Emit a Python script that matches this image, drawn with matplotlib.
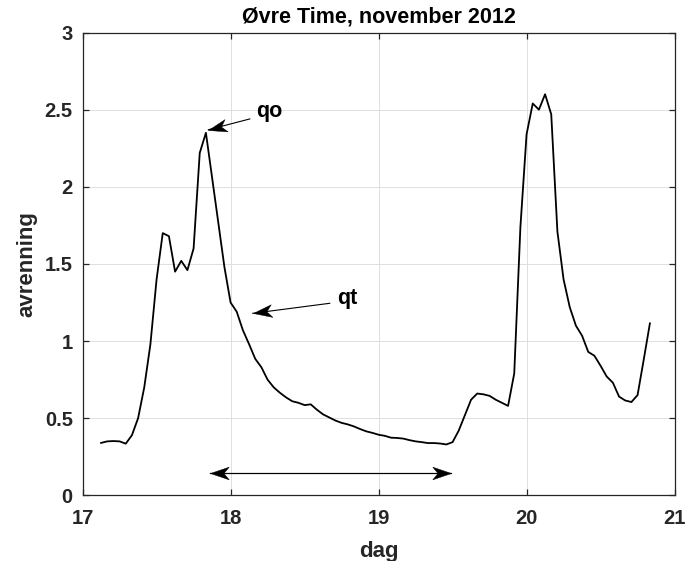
import numpy as np
import matplotlib
matplotlib.use('Agg')
import matplotlib.pyplot as plt
from matplotlib.path import Path
from matplotlib.markers import MarkerStyle

plt.rcParams['font.family'] = ['Liberation Sans', 'DejaVu Sans']
plt.rcParams['font.weight'] = 'bold'

# hourly runoff, Øvre Time, 17. kl 03 -> 20. kl 20
start_day, start_hour = 17, 3
q_17 = [0.34, 0.35, 0.352, 0.35, 0.335, 0.39, 0.50, 0.70, 0.98, 1.40, 1.70,
        1.68, 1.45, 1.52, 1.46, 1.60, 2.22, 2.35, 2.06, 1.77, 1.48]
q_18 = [1.25, 1.19, 1.07, 0.98, 0.885, 0.83, 0.75, 0.70, 0.665, 0.635, 0.61,
        0.60, 0.585, 0.59, 0.555, 0.525, 0.505, 0.485, 0.47, 0.46, 0.447,
        0.43, 0.415, 0.405]
q_19 = [0.393, 0.386, 0.374, 0.372, 0.368, 0.358, 0.35, 0.345, 0.339, 0.339,
        0.336, 0.33, 0.345, 0.42, 0.52, 0.62, 0.66, 0.655, 0.645, 0.62, 0.60,
        0.58, 0.79, 1.74]
q_20 = [2.34, 2.54, 2.50, 2.60, 2.47, 1.71, 1.40, 1.22, 1.10, 1.035, 0.93,
        0.905, 0.84, 0.77, 0.73, 0.64, 0.615, 0.605, 0.65, 0.88, 1.115]

q = np.array(q_17 + q_18 + q_19 + q_20)
dag = start_day + (start_hour + np.arange(len(q))) / 24.0

# annotation points (dag, avrenning)
qo_tip, qo_tail, qo_txt = (17.85, 2.37), (18.13, 2.44), (18.26, 2.485)
qt_tip, qt_tail, qt_txt = (18.15, 1.18), (18.67, 1.245), (18.79, 1.275)
span_x, span_y = (17.86, 19.49), 0.143

dark = '#262626'
fs_tick, fs_lab = 14.5, 16

fig = plt.figure(figsize=(6.94, 5.61), dpi=100)
ax = fig.add_axes([0.119, 0.117, 0.853, 0.825])

ax.plot(dag, q, color='k', lw=1.3)

ax.set_xlim(17, 21)
ax.set_ylim(0, 3)
ax.set_xticks([17, 18, 19, 20, 21])
ax.set_yticks([0, 0.5, 1, 1.5, 2, 2.5, 3])
ax.set_yticklabels(['0', '0.5', '1', '1.5', '2', '2.5', '3'])
ax.grid(True, color='#dedede', lw=0.7)
ax.set_axisbelow(True)
for s in ax.spines.values():
    s.set_color(dark)
    s.set_linewidth(0.9)
ax.tick_params(direction='in', length=4.5, width=0.9, color=dark,
               top=True, right=True, labelsize=fs_tick, labelcolor=dark)
ax.tick_params(axis='x', pad=10)
ax.tick_params(axis='y', pad=7)

ax.set_title('Øvre Time, november 2012', fontsize=15.5, fontweight='bold',
             color='k', pad=7.5)
ax.set_xlabel('dag', fontsize=fs_lab, fontweight='bold', color=dark, labelpad=9)
ax.set_ylabel('avrenning', fontsize=fs_lab, fontweight='bold', color=dark,
              labelpad=5)

# swept-back arrow head, tip at the origin, pointing along +x
head = Path([(0, 0), (-1, 0.34), (-0.72, 0), (-1, -0.34), (0, 0)],
            [Path.MOVETO, Path.LINETO, Path.LINETO, Path.LINETO, Path.CLOSEPOLY])

def arrow(tip, tail):
    ax.plot([tail[0], tip[0]], [tail[1], tip[1]], color='k', lw=0.8)
    p0, p1 = ax.transData.transform([tail, tip])
    ang = np.degrees(np.arctan2(p1[1] - p0[1], p1[0] - p0[0]))
    m = MarkerStyle(head).rotated(deg=ang)
    ax.plot(*tip, marker=m, ms=27, color='k', mec='k', mew=0.3, ls='none')

arrow(qo_tip, qo_tail)
arrow(qt_tip, qt_tail)
arrow((span_x[0], span_y), (span_x[1], span_y))
arrow((span_x[1], span_y), (span_x[0], span_y))
ax.text(*qo_txt, 'qo', fontsize=15.5, fontweight='bold', ha='center', va='center')
ax.text(*qt_txt, 'qt', fontsize=15.5, fontweight='bold', ha='center', va='center')

fig.savefig('out.png', dpi=100)
